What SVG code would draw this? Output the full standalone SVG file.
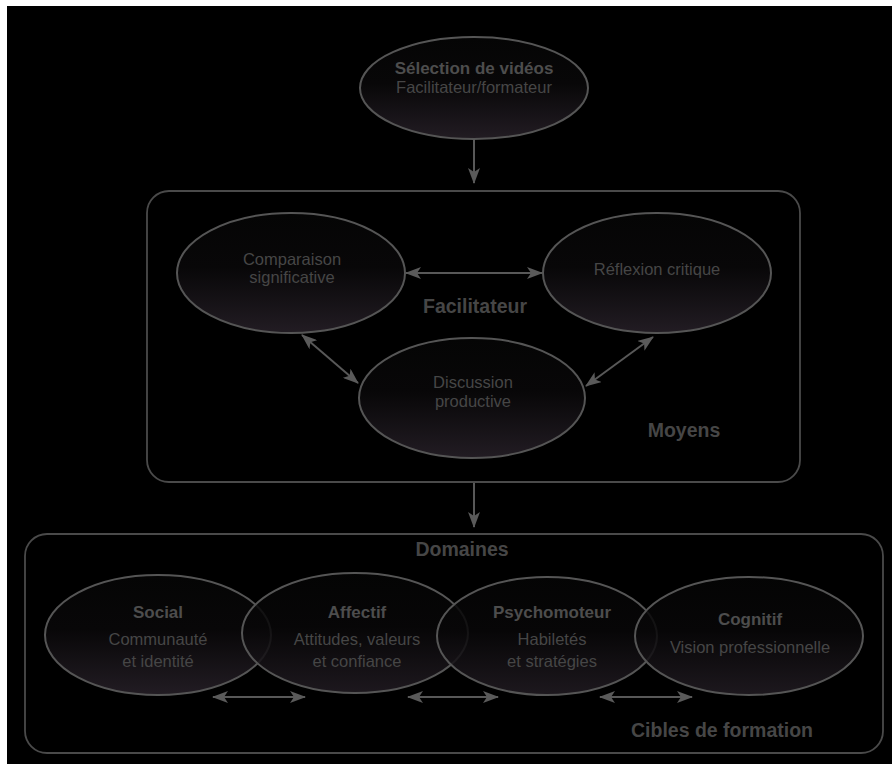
<svg xmlns="http://www.w3.org/2000/svg" width="892" height="764" viewBox="0 0 892 764">
  <style>
    .node { stroke: #555; stroke-width: 2; fill: url(#eg); }
    .ov { fill-opacity: 0.85; }
    .box { fill: none; stroke: #4a4a4a; stroke-width: 1.8; }
    .t { font-family: "Liberation Sans", Arial, sans-serif; font-size: 16.5px; fill: #464646; text-anchor: middle; }
    .b { font-family: "Liberation Sans", Arial, sans-serif; font-size: 17px; font-weight: bold; fill: #4d4d4d; text-anchor: middle; }
    .lb { font-family: "Liberation Sans", Arial, sans-serif; font-size: 19.5px; font-weight: bold; fill: #464646; text-anchor: middle; }
    .c { stroke: #585858; stroke-width: 2; fill: none; marker-end: url(#ah); }
    .d { marker-start: url(#ah); }
  </style>
  <defs>
    <linearGradient id="eg" x1="0" y1="0" x2="0" y2="1">
      <stop offset="0" stop-color="#050505"/>
      <stop offset="0.45" stop-color="#080708"/>
      <stop offset="1" stop-color="#221c23"/>
    </linearGradient>
    <marker id="ah" viewBox="0 0 16 12" refX="15" refY="6" markerWidth="16" markerHeight="12" markerUnits="userSpaceOnUse" orient="auto-start-reverse">
      <path d="M0,0 L16,6 L0,12 L4,6 Z" fill="#5a5a5a"/>
    </marker>
  </defs>
  <rect x="0" y="0" width="892" height="764" fill="#ffffff"/>
  <rect x="7" y="6" width="885" height="758" fill="#000000"/>

  <g id="moyens-box">
    <rect class="box" x="147" y="191" width="653" height="291" rx="22"/>
    <text class="lb" x="684" y="437">Moyens</text>
    <text class="lb" x="475" y="313">Facilitateur</text>
  </g>
  <g id="domaines-box">
    <rect class="box" x="25" y="534" width="858" height="219" rx="22"/>
    <text class="lb" x="462" y="556">Domaines</text>
    <text class="lb" x="722" y="737">Cibles de formation</text>
  </g>

  <g id="selection">
    <ellipse class="node" cx="474" cy="88" rx="114" ry="51"/>
    <text class="b" x="474" y="74">Sélection de vidéos</text>
    <text class="t" x="474" y="93">Facilitateur/formateur</text>
  </g>
  <g id="comparaison">
    <ellipse class="node" cx="291" cy="273" rx="114" ry="60"/>
    <text class="t" x="292" y="265">Comparaison</text>
    <text class="t" x="292" y="283">significative</text>
  </g>
  <g id="reflexion">
    <ellipse class="node" cx="657" cy="273" rx="114" ry="60"/>
    <text class="t" x="657" y="275">Réflexion critique</text>
  </g>
  <g id="discussion">
    <ellipse class="node" cx="472" cy="398" rx="113" ry="60"/>
    <text class="t" x="473" y="388">Discussion</text>
    <text class="t" x="473" y="407">productive</text>
  </g>

  <g id="social">
    <ellipse class="node" cx="158" cy="635" rx="113" ry="60"/>
    <text class="b" x="158" y="618">Social</text>
    <text class="t" x="158" y="645">Communauté</text>
    <text class="t" x="158" y="667">et identité</text>
  </g>
  <g id="affectif">
    <ellipse class="node ov" cx="355" cy="633" rx="113" ry="60"/>
    <text class="b" x="357" y="618">Affectif</text>
    <text class="t" x="357" y="645">Attitudes, valeurs</text>
    <text class="t" x="357" y="667">et confiance</text>
  </g>
  <g id="psychomoteur">
    <ellipse class="node ov" cx="547" cy="636" rx="110" ry="59"/>
    <text class="b" x="552" y="618">Psychomoteur</text>
    <text class="t" x="552" y="645">Habiletés</text>
    <text class="t" x="552" y="667">et stratégies</text>
  </g>
  <g id="cognitif">
    <ellipse class="node ov" cx="749" cy="636" rx="114" ry="59"/>
    <text class="b" x="750" y="625">Cognitif</text>
    <text class="t" x="750" y="653">Vision professionnelle</text>
  </g>

  <g id="connectors">
    <line class="c" x1="474" y1="139" x2="474" y2="183"/>
    <line class="c" x1="474" y1="483" x2="474" y2="527"/>
    <line class="c d" x1="406" y1="273" x2="542" y2="273"/>
    <line class="c d" x1="302" y1="335" x2="358" y2="383"/>
    <line class="c d" x1="653" y1="337" x2="586" y2="386"/>
    <line class="c d" x1="213" y1="697" x2="305" y2="697"/>
    <line class="c d" x1="408" y1="697" x2="498" y2="697"/>
    <line class="c d" x1="600" y1="697" x2="692" y2="697"/>
  </g>
</svg>
